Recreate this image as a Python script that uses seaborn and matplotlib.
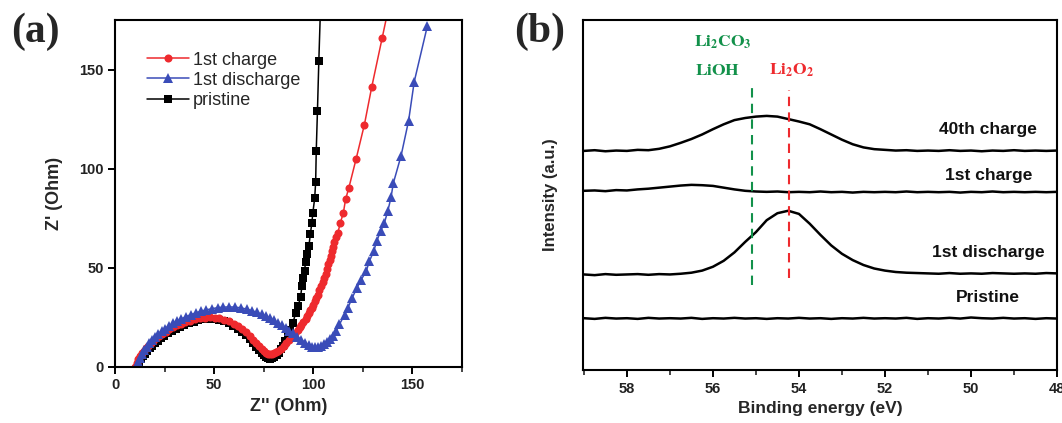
import numpy as np
import pandas as pd
import seaborn as sns
import matplotlib.pyplot as plt
from matplotlib.ticker import MultipleLocator, NullLocator

# ---------------- panel (a): Nyquist data ----------------
charge_x = [10.2, 11.0, 11.8, 12.7, 13.6, 14.6, 15.7, 16.8, 18.0, 19.3, 20.7, 22.2, 23.8, 25.5,
            27.3, 29.2, 31.2, 33.3, 35.5, 37.8, 40.2, 42.7, 45.2, 47.7, 50.2, 52.7, 55.1, 57.5,
            59.8, 62.0, 64.1, 66.1, 68.0, 69.7, 71.3, 72.8, 74.1, 75.3, 76.3, 77.2, 78.1, 79.0,
            80.0, 81.1, 82.3, 83.6, 85.0, 86.4, 88.0, 89.7, 91.0, 92.3, 93.2, 94.0, 95.0, 96.1,
            97.0, 97.8, 98.6, 99.3, 100.0, 100.7, 101.5, 102.3, 103.1, 104.0, 104.7, 105.4, 106.2,
            106.9, 107.6, 108.2, 108.8, 109.4, 110.0, 110.7, 111.5, 112.4, 113.7, 115.2, 116.3,
            117.9, 121.6, 125.8, 129.5, 134.7, 139.0]
charge_y = [0.0, 2.0, 3.8, 5.4, 6.9, 8.3, 9.6, 10.8, 12.0, 13.2, 14.4, 15.6, 16.8, 17.9,
            19.0, 20.0, 21.0, 21.9, 22.7, 23.4, 24.0, 24.5, 24.9, 25.0, 24.9, 24.5, 23.9, 23.0,
            21.9, 20.6, 19.1, 17.4, 15.6, 13.8, 12.0, 10.4, 9.0, 7.9, 7.1, 6.6, 6.4, 6.5,
            6.9, 7.5, 8.3, 9.3, 10.5, 11.9, 13.6, 15.6, 17.2, 18.8, 20.0, 21.2, 22.8, 24.4,
            25.8, 27.2, 28.5, 29.7, 31.3, 33.1, 34.8, 36.5, 38.6, 40.7, 42.8, 44.9, 47.0,
            49.5, 51.8, 54.2, 56.2, 58.4, 60.6, 63.0, 65.4, 67.8, 72.8, 77.9, 84.6,
            90.2, 104.9, 122.3, 141.3, 165.7, 186.0]

discharge_x = [11.0, 11.8, 12.7, 13.7, 14.8, 16.0, 17.3, 18.7, 20.2, 21.8, 23.5, 25.3, 27.2,
               29.2, 31.3, 33.5, 35.8, 38.2, 40.7, 43.3, 46.0, 48.8, 51.7, 54.7, 57.7, 60.7,
               63.6, 66.4, 69.1, 71.7, 74.0, 76.0, 78.0, 80.0, 82.0, 84.0, 86.0, 88.0, 90.0,
               92.0, 94.0, 96.0, 98.0, 99.5, 101.0, 102.5, 104.0, 105.5, 107.0, 108.5, 110.0,
               111.6, 113.2, 115.8, 117.4, 119.6, 122.0, 124.2, 126.7, 128.3, 130.5, 132.0,
               134.0, 135.9, 137.6, 139.2, 140.4, 144.3, 148.1, 150.9, 157.5]
discharge_y = [0.0, 2.5, 4.6, 6.6, 8.5, 10.3, 12.0, 13.6, 15.1, 16.6, 18.0, 19.4, 20.7,
               22.0, 23.2, 24.3, 25.4, 26.4, 27.3, 28.1, 28.8, 29.4, 29.9, 30.2, 30.3, 30.2,
               29.8, 29.2, 28.4, 27.5, 26.6, 25.7, 24.7, 23.6, 22.3, 21.0, 19.7, 18.4, 16.9,
               15.3, 13.7, 12.2, 10.9, 10.3, 10.1, 10.3, 10.8, 11.6, 12.7, 14.0, 15.6,
               18.0, 21.5, 26.4, 29.7, 34.8, 39.9, 44.1, 48.3, 53.4, 58.4, 63.5,
               68.6, 72.8, 78.7, 85.5, 92.8, 106.6, 124.3, 143.8, 171.8]

pristine_x = [11.5, 12.3, 13.2, 14.1, 15.1, 16.2, 17.4, 18.7, 20.1, 21.6, 23.2, 24.9, 26.7,
              28.6, 30.6, 32.7, 34.9, 37.2, 39.6, 42.1, 44.7, 47.3, 49.9, 52.5, 55.0, 57.4,
              59.7, 61.9, 64.0, 66.0, 67.9, 69.7, 71.3, 72.8, 74.1, 75.3, 76.4, 77.4, 78.4,
              79.4, 80.4, 81.5, 82.6, 83.7, 84.8, 85.9, 87.0, 88.2, 89.7, 91.1, 92.3, 93.6,
              94.3, 94.8, 95.6, 96.1, 96.8, 97.8, 98.5, 99.3, 99.8, 100.7, 101.2, 101.5,
              102.1, 102.8, 103.6]
pristine_y = [0.0, 2.0, 3.8, 5.3, 6.7, 8.1, 9.4, 10.7, 12.0, 13.3, 14.6, 15.8, 17.0,
              18.1, 19.2, 20.2, 21.2, 22.1, 22.9, 23.5, 24.0, 24.2, 24.1, 23.7, 23.0, 22.0,
              20.8, 19.4, 17.8, 16.0, 14.1, 12.2, 10.3, 8.6, 7.1, 5.9, 5.0, 4.4, 4.2,
              4.4, 5.0, 6.0, 7.3, 8.9, 10.8, 13.0, 15.5, 18.6, 22.1, 27.2, 30.6, 35.3,
              41.1, 45.0, 48.3, 52.9, 56.8, 61.0, 66.9, 72.8, 77.9, 85.0, 93.2, 109.0,
              129.0, 154.3, 180.0]

# ---------------- panel (b): XPS Li 1s spectra ----------------
energy = [59.0, 58.75, 58.5, 58.25, 58.0, 57.75, 57.5, 57.25, 57.0, 56.75, 56.5, 56.25,
          56.0, 55.75, 55.5, 55.25, 55.0, 54.75, 54.5, 54.25, 54.0, 53.75, 53.5, 53.25,
          53.0, 52.75, 52.5, 52.25, 52.0, 51.75, 51.5, 51.25, 51.0, 50.75, 50.5, 50.25,
          50.0, 49.75, 49.5, 49.25, 49.0, 48.75, 48.5, 48.25, 48.0]
charge40 = [62.6, 62.8, 62.5, 62.7, 62.6, 62.9, 62.8, 63.2, 63.9, 64.9, 66.0, 67.3,
            68.8, 70.2, 71.4, 72.0, 72.4, 72.6, 72.4, 71.7, 71.0, 70.2, 68.8, 67.3,
            65.8, 64.5, 63.6, 63.1, 62.9, 62.7, 62.8, 62.6, 62.7, 62.6, 62.8, 62.6,
            62.7, 62.5, 62.7, 62.6, 62.8, 62.6, 62.7, 62.6, 62.7]
charge1 = [51.2, 51.3, 51.1, 51.4, 51.3, 51.6, 51.8, 52.1, 52.4, 52.7, 52.9, 52.8,
           52.6, 52.1, 51.6, 51.2, 51.0, 50.9, 51.0, 50.8, 50.9, 50.8, 51.0, 50.8,
           50.9, 50.7, 50.9, 50.8, 50.9, 50.8, 51.0, 50.8, 50.9, 50.8, 50.9, 50.7,
           50.9, 50.8, 51.0, 50.8, 50.9, 50.8, 50.9, 50.8, 50.9]
discharge1 = [27.3, 27.1, 27.4, 27.2, 27.3, 27.4, 27.2, 27.4, 27.3, 27.5, 27.8, 28.4,
              29.5, 31.2, 33.6, 36.6, 39.4, 42.8, 44.8, 45.5, 44.6, 41.8, 38.6, 35.6,
              33.2, 31.4, 30.0, 29.0, 28.4, 28.0, 27.8, 27.7, 27.6, 27.5, 27.7, 27.5,
              27.6, 27.5, 27.7, 27.6, 27.5, 27.6, 27.5, 27.7, 27.6]
pristine = [14.8, 14.6, 14.9, 14.7, 14.8, 14.6, 14.9, 14.7, 14.8, 14.7, 14.9, 14.6,
            14.8, 14.7, 14.9, 14.7, 14.8, 14.6, 14.8, 14.7, 14.9, 14.7, 14.8, 14.6,
            14.8, 14.7, 14.9, 14.7, 14.8, 14.7, 14.9, 14.6, 14.8, 14.7, 14.9, 14.7,
            15.0, 14.8, 14.7, 14.9, 14.7, 14.8, 14.6, 14.8, 14.7]

spectra_labels = ['40th charge', '1st charge', '1st discharge', 'Pristine']
spectra_label_y = [68.6, 55.7, 33.7, 20.6]

RED = '#ee2a2e'
BLUE = '#3a4cb8'
GREEN = '#12914a'

sns.set_theme(style='ticks')
plt.rcParams['font.family'] = ['Liberation Sans', 'DejaVu Sans']
plt.rcParams['mathtext.fontset'] = 'stix'
plt.rcParams['axes.linewidth'] = 1.5
plt.rcParams['xtick.major.width'] = 1.4
plt.rcParams['ytick.major.width'] = 1.4
plt.rcParams['xtick.minor.width'] = 1.2
plt.rcParams['xtick.major.size'] = 5
plt.rcParams['ytick.major.size'] = 5
plt.rcParams['xtick.minor.size'] = 3.5
plt.rcParams['xtick.direction'] = 'out'
plt.rcParams['ytick.direction'] = 'out'

fig = plt.figure(figsize=(10.62, 4.23), dpi=100)
ax1 = fig.add_axes([0.1083, 0.1324, 0.3267, 0.8203])
ax2 = fig.add_axes([0.549, 0.1253, 0.4463, 0.8274])

# ---- (a) ----
sns.lineplot(x=pristine_x, y=pristine_y, ax=ax1, color='black', marker='s', markersize=5.3,
             markeredgewidth=0, linewidth=1.1, sort=False, estimator=None, label='pristine')
sns.lineplot(x=charge_x, y=charge_y, ax=ax1, color=RED, marker='o', markersize=5.8,
             markeredgewidth=0, linewidth=1.1, sort=False, estimator=None, label='1st charge')
sns.lineplot(x=discharge_x, y=discharge_y, ax=ax1, color=BLUE, marker='^', markersize=6.8,
             markeredgewidth=0, linewidth=1.1, sort=False, estimator=None, label='1st discharge')
ax1.set_xlim(0, 175)
ax1.set_ylim(0, 175)
ax1.set_xticks([0, 50, 100, 150])
ax1.set_yticks([0, 50, 100, 150])
ax1.xaxis.set_minor_locator(MultipleLocator(25))
ax1.yaxis.set_minor_locator(NullLocator())
for lab in ax1.get_xticklabels() + ax1.get_yticklabels():
    lab.set_fontweight('bold')
    lab.set_fontsize(10.5)
ax1.tick_params(colors='black', labelcolor='#222222', pad=3)
ax1.set_xlabel("Z'' (Ohm)", fontsize=13, fontweight='bold')
ax1.set_ylabel("Z' (Ohm)", fontsize=13, fontweight='bold')
ax1.xaxis.set_label_coords(0.5, -0.09)
ax1.yaxis.set_label_coords(-0.15, 0.5)
for s in ax1.spines.values():
    s.set_visible(True)
    s.set_color('black')

h, l = ax1.get_legend_handles_labels()
order = [l.index('1st charge'), l.index('1st discharge'), l.index('pristine')]
ax1.legend([h[i] for i in order], [l[i] for i in order], loc='upper left',
           bbox_to_anchor=(0.07, 0.93), frameon=False, fontsize=13, handlelength=2.35,
           handletextpad=0.2, labelspacing=0.18, borderaxespad=0, numpoints=1)

# ---- (b) ----
for vals in [charge40, charge1, discharge1, pristine]:
    sns.lineplot(x=energy, y=vals, ax=ax2, color='black', linewidth=1.8, sort=False, estimator=None)
ax2.set_xlim(59.02, 48)
ax2.set_ylim(0, 100)
ax2.xaxis.set_major_locator(MultipleLocator(2))
ax2.xaxis.set_minor_locator(MultipleLocator(1))
ax2.yaxis.set_major_locator(NullLocator())
ax2.set_xticks([58, 56, 54, 52, 50, 48])
ax2.set_xticklabels(['58', '56', '54', '52', '50', '48'])
for lab in ax2.get_xticklabels():
    lab.set_fontweight('bold')
    lab.set_fontsize(10.5)
ax2.tick_params(colors='black', labelcolor='#222222', pad=4)
ax2.set_xlabel('Binding energy (eV)', fontsize=12.5, fontweight='bold')
ax2.set_ylabel('Intensity (a.u.)', fontsize=12, fontweight='bold')
ax2.xaxis.set_label_coords(0.5, -0.09)
ax2.yaxis.set_label_coords(-0.052, 0.5)
for s in ax2.spines.values():
    s.set_visible(True)
    s.set_color('black')

for name, yy in zip(spectra_labels, spectra_label_y):
    ax2.text(49.6, yy, name, ha='center', va='center', fontsize=12.5, fontweight='bold', color='#111111')

ax2.vlines(55.1, 24.3, 81.4, colors=GREEN, linestyles=(0, (4.5, 3)), linewidth=1.5)
ax2.vlines(54.23, 26.3, 80.0, colors=RED, linestyles=(0, (4.5, 3)), linewidth=1.5)
ax2.text(55.76, 93.7, r'$\mathbf{Li_{2}CO_{3}}$', color=GREEN, ha='center', va='center', fontsize=12.5)
ax2.text(55.88, 85.7, r'$\mathbf{LiOH}$', color=GREEN, ha='center', va='center', fontsize=12.5)
ax2.text(54.18, 85.7, r'$\mathbf{Li_{2}O_{2}}$', color=RED, ha='center', va='center', fontsize=12.5)

fig.text(0.033, 0.925, '(a)', fontsize=30, fontweight='bold', family=['Liberation Serif'],
         ha='center', va='center')
fig.text(0.508, 0.925, '(b)', fontsize=30, fontweight='bold', family=['Liberation Serif'],
         ha='center', va='center')

fig.savefig('out.png', dpi=100)
